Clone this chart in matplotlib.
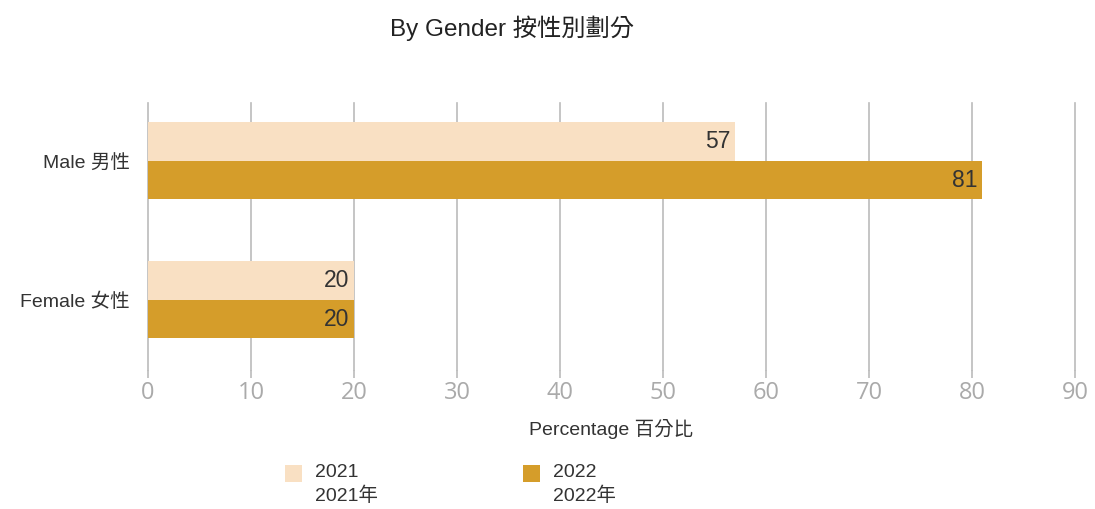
import matplotlib.pyplot as plt
from matplotlib.patches import Rectangle
import numpy as np

# Data
categories = ["Female 女性", "Male 男性"]
series_names = ["2021", "2022"]
legend_labels = ["2021\n2021年", "2022\n2022年"]
values_2021 = [20, 57]
values_2022 = [20, 81]
x_ticks = [0, 10, 20, 30, 40, 50, 60, 70, 80, 90]

plt.rcParams['font.family'] = ['Liberation Sans', 'Noto Sans CJK TC', 'DejaVu Sans']

color_2021 = '#F9E0C3'
color_2022 = '#D59D2A'
grid_color = '#BBBBBB'
text_color = '#333333'

fig = plt.figure(figsize=(10.95, 5.09), dpi=100)
ax = fig.add_axes([0.1352, 0.273, 0.8465, 0.525])

y = np.arange(len(categories))
h = 0.277

ax.barh(y + h / 2, values_2021, h, color=color_2021, zorder=3)
ax.barh(y - h / 2, values_2022, h, color=color_2022, zorder=3)

for i in range(len(categories)):
    ax.text(values_2021[i] - 0.45, y[i] + h / 2, str(values_2021[i]), ha='right', va='center',
            fontsize=16.5, color=text_color, zorder=4)
    ax.text(values_2022[i] - 0.45, y[i] - h / 2, str(values_2022[i]), ha='right', va='center',
            fontsize=16.5, color=text_color, zorder=4)

ax.set_xlim(0, 90)
ax.set_ylim(-0.504, 1.417)
ax.set_xticks(x_ticks)
ax.set_xticklabels([str(t) for t in x_ticks], fontsize=17, color='#AAAAAA',
                   family=['Open Sans', 'DejaVu Sans'])
ax.set_yticks(y)
ax.set_yticklabels(categories, fontsize=14, color=text_color)
ax.tick_params(axis='x', length=6, width=1.2, color=grid_color, pad=2)
ax.tick_params(axis='y', length=0, pad=13)
ax.grid(axis='x', color=grid_color, linewidth=1.2, zorder=0)
for gl in ax.get_xgridlines():
    gl.set_clip_on(False)
for s in ax.spines.values():
    s.set_visible(False)

ax.set_xlabel("Percentage 百分比", fontsize=14, color=text_color, labelpad=10)

fig.text(0.4676, 0.945, "By Gender 按性別劃分", ha='center', va='center', fontsize=17.5, color='#222222')

# Legend drawn manually so the swatch sits beside the first line
W, H = fig.get_size_inches() * fig.dpi
for lx, lab, col in [(285, legend_labels[0], color_2021), (523, legend_labels[1], color_2022)]:
    fig.patches.append(Rectangle((lx / W, 1 - 482 / H), 17 / W, 17 / H, transform=fig.transFigure,
                                 facecolor=col, edgecolor='none'))
    fig.text((lx + 30) / W, 1 - 464 / H, lab, ha='left', va='top', fontsize=14,
             color=text_color, linespacing=1.4)

fig.savefig("out.png", dpi=100)
